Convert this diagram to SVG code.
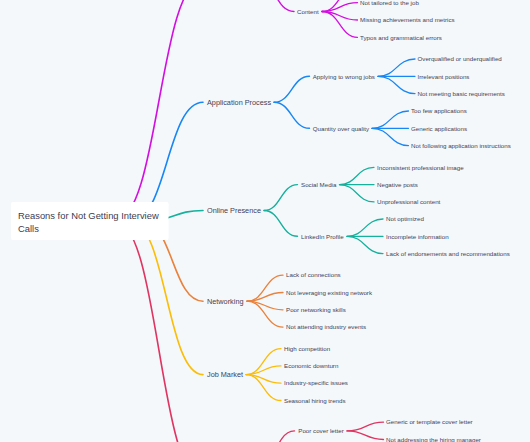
<svg xmlns="http://www.w3.org/2000/svg" width="530" height="442" viewBox="0 0 530 442">
<style>
text{font-family:"Liberation Sans",Arial,sans-serif;fill:#424256}
.t0{font-size:9.4px;fill:#3c3c50}
.t1{font-size:7.3px}
.t2{font-size:6.2px}
.c{fill:none;stroke-linecap:round}
.l1{stroke-width:1.6}
.l2{stroke-width:1.4}
.l3{stroke-width:1.3}
.mg{stroke:#d20fe0}
.bl{stroke:#1787f5}
.tl{stroke:#14b19c}
.or{stroke:#e9823c}
.ye{stroke:#fbbd08}
.rd{stroke:#df3562}
</style>
<rect width="530" height="442" fill="#f5f8fb"/>
<g id="connectors">
<path class="c l1 mg" d="M115,221 C159,221 159,-20 203,-20"/>
<path class="c l1 bl" d="M131,221 C167,221 167,102.3 203,102.3"/>
<path class="c l1 tl" d="M145,221 C174,221 174,210.5 203,210.5"/>
<path class="c l1 or" d="M142,221 C172.5,221 172.5,301.2 203,301.2"/>
<path class="c l1 ye" d="M130,221 C166.5,221 166.5,374.6 203,374.6"/>
<path class="c l1 rd" d="M115,221 C159,221 159,480 203,480"/>
<path class="c l2 mg" d="M257,-20 C275.5,-20 275.5,11.5 294,11.5"/>
<path class="c l2 bl" d="M274,102.3 C291.75,102.3 291.75,76.3 309.5,76.3"/>
<path class="c l2 bl" d="M274,102.3 C291.75,102.3 291.75,128.3 309.5,128.3"/>
<path class="c l2 tl" d="M264,210.5 C280.75,210.5 280.75,184.6 297.5,184.6"/>
<path class="c l2 tl" d="M264,210.5 C280.75,210.5 280.75,236.3 297.5,236.3"/>
<path class="c l2 rd" d="M252,480 C273.25,480 273.25,430.9 294.5,430.9"/>
<path class="c l3 mg" d="M322,11.5 C339.75,11.5 339.75,-14.6 357.5,-14.6"/>
<path class="c l3 mg" d="M322,11.5 C339.75,11.5 339.75,2.7 357.5,2.7"/>
<path class="c l3 mg" d="M322,11.5 C339.75,11.5 339.75,20 357.5,20"/>
<path class="c l3 mg" d="M322,11.5 C339.75,11.5 339.75,37.3 357.5,37.3"/>
<path class="c l3 bl" d="M378,76.3 C396.5,76.3 396.5,59 415,59"/>
<path class="c l3 bl" d="M378,76.3 L415,76.3"/>
<path class="c l3 bl" d="M378,76.3 C396.5,76.3 396.5,93.6 415,93.6"/>
<path class="c l3 bl" d="M372,128.3 C390.25,128.3 390.25,111 408.5,111"/>
<path class="c l3 bl" d="M372,128.3 L408.5,128.3"/>
<path class="c l3 bl" d="M372,128.3 C390.25,128.3 390.25,145.6 408.5,145.6"/>
<path class="c l3 tl" d="M339.5,184.6 C356.75,184.6 356.75,167.3 374,167.3"/>
<path class="c l3 tl" d="M339.5,184.6 L374,184.6"/>
<path class="c l3 tl" d="M339.5,184.6 C356.75,184.6 356.75,201.9 374,201.9"/>
<path class="c l3 tl" d="M347,236.3 C365,236.3 365,219 383,219"/>
<path class="c l3 tl" d="M347,236.3 L383,236.3"/>
<path class="c l3 tl" d="M347,236.3 C365,236.3 365,253.6 383,253.6"/>
<path class="c l3 or" d="M247,301.2 C265,301.2 265,275.2 283,275.2"/>
<path class="c l3 or" d="M247,301.2 C265,301.2 265,292.5 283,292.5"/>
<path class="c l3 or" d="M247,301.2 C265,301.2 265,309.8 283,309.8"/>
<path class="c l3 or" d="M247,301.2 C265,301.2 265,327.1 283,327.1"/>
<path class="c l3 ye" d="M246,374.6 C263.5,374.6 263.5,348.6 281,348.6"/>
<path class="c l3 ye" d="M246,374.6 C263.5,374.6 263.5,365.9 281,365.9"/>
<path class="c l3 ye" d="M246,374.6 C263.5,374.6 263.5,383.2 281,383.2"/>
<path class="c l3 ye" d="M246,374.6 C263.5,374.6 263.5,400.5 281,400.5"/>
<path class="c l3 rd" d="M347,430.9 C365.25,430.9 365.25,422.2 383.5,422.2"/>
<path class="c l3 rd" d="M347,430.9 C365.25,430.9 365.25,439.5 383.5,439.5"/>
</g>
<g id="root">
<rect x="11" y="202" width="157.5" height="38" rx="2" fill="#ffffff"/>
<text class="t0" x="18" y="218.5">Reasons for Not Getting Interview</text>
<text class="t0" x="18" y="231.5">Calls</text>
</g>
<g id="n-application-process"><text class="t1" x="207" y="104.9">Application Process</text></g>
<g id="n-online-presence"><text class="t1" x="207" y="213.1">Online Presence</text></g>
<g id="n-networking"><text class="t1" x="207" y="303.8">Networking</text></g>
<g id="n-job-market"><text class="t1" x="207" y="377.2">Job Market</text></g>
<g id="n-content"><text class="t2" x="297" y="13.7">Content</text></g>
<g id="n-content-1"><text class="t2" x="360" y="4.9">Not tailored to the job</text></g>
<g id="n-content-2"><text class="t2" x="360" y="22.2">Missing achievements and metrics</text></g>
<g id="n-content-3"><text class="t2" x="360" y="39.5">Typos and grammatical errors</text></g>
<g id="n-applying"><text class="t2" x="312.7" y="78.5">Applying to wrong jobs</text></g>
<g id="n-applying-1"><text class="t2" x="417.5" y="61.2">Overqualified or underqualified</text></g>
<g id="n-applying-2"><text class="t2" x="417.5" y="78.5">Irrelevant positions</text></g>
<g id="n-applying-3"><text class="t2" x="417.5" y="95.8">Not meeting basic requirements</text></g>
<g id="n-quantity"><text class="t2" x="312.7" y="130.5">Quantity over quality</text></g>
<g id="n-quantity-1"><text class="t2" x="411" y="113.2">Too few applications</text></g>
<g id="n-quantity-2"><text class="t2" x="411" y="130.5">Generic applications</text></g>
<g id="n-quantity-3"><text class="t2" x="411" y="147.8">Not following application instructions</text></g>
<g id="n-social"><text class="t2" x="301" y="186.8">Social Media</text></g>
<g id="n-social-1"><text class="t2" x="377" y="169.5">Inconsistent professional image</text></g>
<g id="n-social-2"><text class="t2" x="377" y="186.8">Negative posts</text></g>
<g id="n-social-3"><text class="t2" x="377" y="204.1">Unprofessional content</text></g>
<g id="n-linkedin"><text class="t2" x="301" y="238.5">LinkedIn Profile</text></g>
<g id="n-linkedin-1"><text class="t2" x="386" y="221.2">Not optimized</text></g>
<g id="n-linkedin-2"><text class="t2" x="386" y="238.5">Incomplete information</text></g>
<g id="n-linkedin-3"><text class="t2" x="386" y="255.8">Lack of endorsements and recommendations</text></g>
<g id="n-networking-1"><text class="t2" x="286" y="277.4">Lack of connections</text></g>
<g id="n-networking-2"><text class="t2" x="286" y="294.7">Not leveraging existing network</text></g>
<g id="n-networking-3"><text class="t2" x="286" y="312">Poor networking skills</text></g>
<g id="n-networking-4"><text class="t2" x="286" y="329.3">Not attending industry events</text></g>
<g id="n-job-1"><text class="t2" x="284" y="350.8">High competition</text></g>
<g id="n-job-2"><text class="t2" x="284" y="368.1">Economic downturn</text></g>
<g id="n-job-3"><text class="t2" x="284" y="385.4">Industry-specific issues</text></g>
<g id="n-job-4"><text class="t2" x="284" y="402.7">Seasonal hiring trends</text></g>
<g id="n-cover"><text class="t2" x="298.3" y="433.1">Poor cover letter</text></g>
<g id="n-cover-1"><text class="t2" x="386" y="424.4">Generic or template cover letter</text></g>
<g id="n-cover-2"><text class="t2" x="386" y="441.7">Not addressing the hiring manager</text></g>
</svg>
